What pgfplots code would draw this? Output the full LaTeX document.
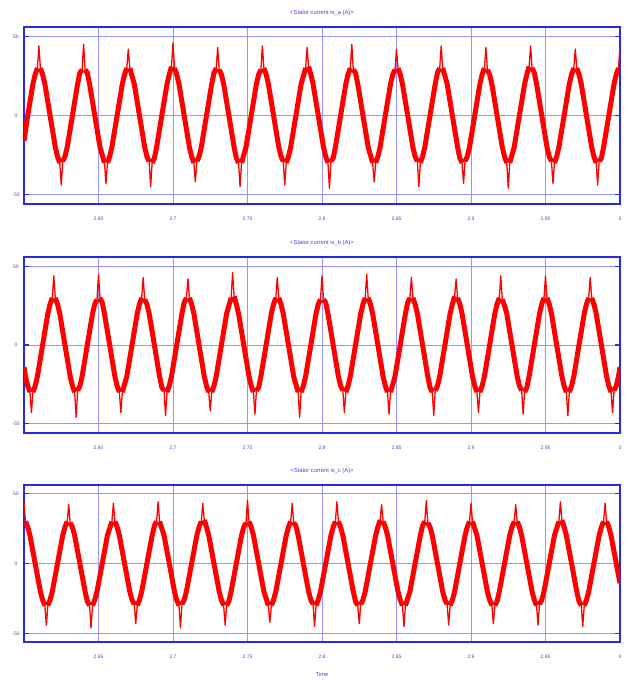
\documentclass[border=0pt]{standalone}
\usepackage{fontspec}
\setmainfont{Liberation Sans}
\usepackage{pgfplots}
\pgfplotsset{compat=1.18}

\definecolor{frameblue}{RGB}{40,40,235}
\definecolor{gridblue}{RGB}{150,150,255}
\definecolor{labblue}{RGB}{70,70,220}
\definecolor{curred}{RGB}{255,0,0}

\pgfplotsset{
  scope/.style={
    scale only axis,
    width=596pt,
    xmin=2.6, xmax=3.0,
    ymin=-56, ymax=56,
    xtick={2.65,2.7,2.75,2.8,2.85,2.9,2.95,3},
    ytick={-50,0,50},
    xmajorgrids, ymajorgrids,
    major grid style={draw=gridblue, line width=0.9pt},
    axis line style={frameblue, line width=1.2pt},
    xtick style={draw=none},
    ytick style={draw=frameblue, line width=1.2pt},
    major tick length=5pt,
    tick align=inside,
    tick label style={font=\fontsize{5}{6}\selectfont, text=labblue},
    /pgf/number format/assume math mode=true,
    xticklabel style={anchor=center, yshift=-15pt},
    yticklabel style={anchor=center, xshift=-8pt},
    title style={at={(0.5,1)}, anchor=center, yshift=8pt,
      font=\fontsize{5.8}{7}\selectfont, text=labblue},
  },
  band/.style={curred, line width=5pt, line join=round, restrict y to domain=-33:33},
  needle/.style={curred, line width=1.3pt, line join=round},
}

\pgfplotstableread{
t y
2.6000 -16
2.6025 0
2.6060 20
2.6075 26
2.6090 30
2.6100 44
2.6110 30
2.6125 26
2.6140 20
2.6175 0
2.6210 -20
2.6225 -26
2.6240 -30
2.6250 -44
2.6260 -29
2.6275 -26
2.6290 -20
2.6325 0
2.6360 20
2.6375 27
2.6390 29
2.6400 45
2.6410 29
2.6425 27
2.6440 20
2.6475 0
2.6510 -20
2.6525 -25
2.6540 -30
2.6550 -43
2.6560 -30
2.6575 -26
2.6590 -20
2.6625 0
2.6660 20
2.6675 26
2.6690 30
2.6700 42
2.6710 30
2.6725 25
2.6740 20
2.6775 0
2.6810 -20
2.6825 -26
2.6840 -29
2.6850 -45
2.6860 -30
2.6875 -27
2.6890 -20
2.6925 0
2.6960 20
2.6975 26
2.6990 31
2.7000 46
2.7010 30
2.7025 26
2.7040 20
2.7075 0
2.7110 -20
2.7125 -26
2.7140 -30
2.7150 -42
2.7160 -29
2.7175 -26
2.7190 -20
2.7225 0
2.7260 20
2.7275 27
2.7290 30
2.7300 43
2.7310 29
2.7325 26
2.7340 20
2.7375 0
2.7410 -20
2.7425 -27
2.7440 -30
2.7450 -45
2.7460 -30
2.7475 -25
2.7490 -20
2.7525 0
2.7560 20
2.7575 26
2.7590 29
2.7600 44
2.7610 30
2.7625 26
2.7640 20
2.7675 0
2.7710 -20
2.7725 -26
2.7740 -29
2.7750 -44
2.7760 -30
2.7775 -26
2.7790 -20
2.7825 0
2.7860 20
2.7875 25
2.7890 30
2.7900 43
2.7910 31
2.7925 26
2.7940 20
2.7975 0
2.8010 -20
2.8025 -26
2.8040 -30
2.8050 -46
2.8060 -29
2.8075 -27
2.8090 -20
2.8125 0
2.8160 20
2.8175 26
2.8190 30
2.8200 45
2.8210 29
2.8225 27
2.8240 20
2.8275 0
2.8310 -20
2.8325 -25
2.8340 -30
2.8350 -42
2.8360 -30
2.8375 -26
2.8390 -20
2.8425 0
2.8460 20
2.8475 26
2.8490 29
2.8500 42
2.8510 30
2.8525 26
2.8540 20
2.8575 0
2.8610 -20
2.8625 -26
2.8640 -29
2.8650 -45
2.8660 -30
2.8675 -26
2.8690 -20
2.8725 0
2.8760 20
2.8775 27
2.8790 30
2.8800 44
2.8810 30
2.8825 25
2.8840 20
2.8875 0
2.8910 -20
2.8925 -27
2.8940 -30
2.8950 -43
2.8960 -29
2.8975 -26
2.8990 -20
2.9025 0
2.9060 20
2.9075 26
2.9090 30
2.9100 43
2.9110 29
2.9125 26
2.9140 20
2.9175 0
2.9210 -20
2.9225 -26
2.9240 -30
2.9250 -46
2.9260 -30
2.9275 -25
2.9290 -20
2.9325 0
2.9360 20
2.9375 26
2.9390 31
2.9400 44
2.9410 30
2.9425 27
2.9440 20
2.9475 0
2.9510 -20
2.9525 -26
2.9540 -29
2.9550 -43
2.9560 -30
2.9575 -26
2.9590 -20
2.9625 0
2.9660 20
2.9675 26
2.9690 30
2.9700 42
2.9710 30
2.9725 26
2.9740 20
2.9775 0
2.9810 -20
2.9825 -26
2.9840 -30
2.9850 -44
2.9860 -29
2.9875 -27
2.9890 -20
2.9925 0
2.9960 20
2.9975 26
2.9990 30
3.0000 44
}\phasea

\pgfplotstableread{
t y
2.6000 -14
2.6010 -20
2.6025 -26
2.6040 -30
2.6050 -43
2.6060 -30
2.6075 -26
2.6090 -20
2.6125 0
2.6160 20
2.6175 26
2.6190 30
2.6200 44
2.6210 30
2.6225 26
2.6240 20
2.6275 0
2.6310 -20
2.6325 -26
2.6340 -30
2.6350 -46
2.6360 -29
2.6375 -26
2.6390 -20
2.6425 0
2.6460 20
2.6475 26
2.6490 29
2.6500 45
2.6510 30
2.6525 27
2.6540 20
2.6575 0
2.6610 -20
2.6625 -26
2.6640 -30
2.6650 -43
2.6660 -30
2.6675 -25
2.6690 -20
2.6725 0
2.6760 20
2.6775 26
2.6790 30
2.6800 43
2.6810 29
2.6825 26
2.6840 20
2.6875 0
2.6910 -20
2.6925 -27
2.6940 -29
2.6950 -45
2.6960 -30
2.6975 -26
2.6990 -20
2.7025 0
2.7060 20
2.7075 27
2.7090 30
2.7100 42
2.7110 30
2.7125 26
2.7140 20
2.7175 0
2.7210 -20
2.7225 -26
2.7240 -30
2.7250 -42
2.7260 -30
2.7275 -26
2.7290 -20
2.7325 0
2.7360 20
2.7375 25
2.7390 30
2.7400 46
2.7410 31
2.7425 26
2.7440 20
2.7475 0
2.7510 -20
2.7525 -26
2.7540 -30
2.7550 -44
2.7560 -29
2.7575 -27
2.7590 -20
2.7625 0
2.7660 20
2.7675 26
2.7690 30
2.7700 43
2.7710 30
2.7725 26
2.7740 20
2.7775 0
2.7810 -20
2.7825 -25
2.7840 -30
2.7850 -46
2.7860 -30
2.7875 -26
2.7890 -20
2.7925 0
2.7960 20
2.7975 26
2.7990 29
2.8000 44
2.8010 29
2.8025 27
2.8040 20
2.8075 0
2.8110 -20
2.8125 -26
2.8140 -29
2.8150 -43
2.8160 -30
2.8175 -26
2.8190 -20
2.8225 0
2.8260 20
2.8275 26
2.8290 30
2.8300 45
2.8310 30
2.8325 26
2.8340 20
2.8375 0
2.8410 -20
2.8425 -26
2.8440 -30
2.8450 -44
2.8460 -30
2.8475 -25
2.8490 -20
2.8525 0
2.8560 20
2.8575 27
2.8590 30
2.8600 43
2.8610 30
2.8625 26
2.8640 20
2.8675 0
2.8710 -20
2.8725 -27
2.8740 -30
2.8750 -45
2.8760 -29
2.8775 -26
2.8790 -20
2.8825 0
2.8860 20
2.8875 26
2.8890 31
2.8900 42
2.8910 30
2.8925 26
2.8940 20
2.8975 0
2.9010 -20
2.9025 -26
2.9040 -30
2.9050 -43
2.9060 -30
2.9075 -26
2.9090 -20
2.9125 0
2.9160 20
2.9175 26
2.9190 30
2.9200 44
2.9210 29
2.9225 25
2.9240 20
2.9275 0
2.9310 -20
2.9325 -26
2.9340 -29
2.9350 -44
2.9360 -30
2.9375 -27
2.9390 -20
2.9425 0
2.9460 20
2.9475 26
2.9490 30
2.9500 44
2.9510 30
2.9525 26
2.9540 20
2.9575 0
2.9610 -20
2.9625 -26
2.9640 -30
2.9650 -45
2.9660 -30
2.9675 -26
2.9690 -20
2.9725 0
2.9760 20
2.9775 26
2.9790 30
2.9800 43
2.9810 30
2.9825 26
2.9840 20
2.9875 0
2.9910 -20
2.9925 -26
2.9940 -30
2.9950 -43
2.9960 -29
2.9975 -26
2.9990 -20
3.0000 -14
}\phaseb

\pgfplotstableread{
t y
2.6000 44
2.6010 30
2.6025 26
2.6040 20
2.6075 0
2.6110 -20
2.6125 -26
2.6140 -30
2.6150 -44
2.6160 -30
2.6175 -26
2.6190 -20
2.6225 0
2.6260 20
2.6275 26
2.6290 30
2.6300 42
2.6310 29
2.6325 26
2.6340 20
2.6375 0
2.6410 -20
2.6425 -27
2.6440 -30
2.6450 -46
2.6460 -30
2.6475 -26
2.6490 -20
2.6525 0
2.6560 20
2.6575 25
2.6590 30
2.6600 43
2.6610 30
2.6625 26
2.6640 20
2.6675 0
2.6710 -20
2.6725 -26
2.6740 -29
2.6750 -43
2.6760 -30
2.6775 -26
2.6790 -20
2.6825 0
2.6860 20
2.6875 27
2.6890 30
2.6900 44
2.6910 30
2.6925 25
2.6940 20
2.6975 0
2.7010 -20
2.7025 -26
2.7040 -30
2.7050 -46
2.7060 -29
2.7075 -26
2.7090 -20
2.7125 0
2.7160 20
2.7175 26
2.7190 30
2.7200 43
2.7210 31
2.7225 26
2.7240 20
2.7275 0
2.7310 -20
2.7325 -26
2.7340 -30
2.7350 -44
2.7360 -30
2.7375 -27
2.7390 -20
2.7425 0
2.7460 20
2.7475 26
2.7490 29
2.7500 45
2.7510 30
2.7525 26
2.7540 20
2.7575 0
2.7610 -20
2.7625 -25
2.7640 -30
2.7650 -42
2.7660 -30
2.7675 -26
2.7690 -20
2.7725 0
2.7760 20
2.7775 26
2.7790 30
2.7800 43
2.7810 29
2.7825 27
2.7840 20
2.7875 0
2.7910 -20
2.7925 -26
2.7940 -29
2.7950 -45
2.7960 -30
2.7975 -26
2.7990 -20
2.8025 0
2.8060 20
2.8075 26
2.8090 30
2.8100 44
2.8110 30
2.8125 26
2.8140 20
2.8175 0
2.8210 -20
2.8225 -27
2.8240 -30
2.8250 -43
2.8260 -29
2.8275 -26
2.8290 -20
2.8325 0
2.8360 20
2.8375 26
2.8390 31
2.8400 42
2.8410 30
2.8425 26
2.8440 20
2.8475 0
2.8510 -20
2.8525 -26
2.8540 -30
2.8550 -45
2.8560 -30
2.8575 -25
2.8590 -20
2.8625 0
2.8660 20
2.8675 27
2.8690 30
2.8700 45
2.8710 29
2.8725 26
2.8740 20
2.8775 0
2.8810 -20
2.8825 -26
2.8840 -29
2.8850 -44
2.8860 -30
2.8875 -26
2.8890 -20
2.8925 0
2.8960 20
2.8975 26
2.8990 30
2.9000 43
2.9010 30
2.9025 25
2.9040 20
2.9075 0
2.9110 -20
2.9125 -26
2.9140 -30
2.9150 -43
2.9160 -30
2.9175 -27
2.9190 -20
2.9225 0
2.9260 20
2.9275 26
2.9290 30
2.9300 42
2.9310 30
2.9325 26
2.9340 20
2.9375 0
2.9410 -20
2.9425 -26
2.9440 -30
2.9450 -44
2.9460 -29
2.9475 -26
2.9490 -20
2.9525 0
2.9560 20
2.9575 25
2.9590 30
2.9600 44
2.9610 31
2.9625 26
2.9640 20
2.9675 0
2.9710 -20
2.9725 -27
2.9740 -30
2.9750 -45
2.9760 -30
2.9775 -26
2.9790 -20
2.9825 0
2.9860 20
2.9875 26
2.9890 30
2.9900 43
2.9910 30
2.9925 26
2.9940 20
2.9975 0
3.0000 -14
}\phasec

\begin{document}
\begin{tikzpicture}
\useasboundingbox (0,0) rectangle (627pt,680pt);

% phase a
\begin{axis}[scope, at={(24pt,476pt)}, anchor=south west, height=177pt,
  title={<Stator current is\_a (A)>}]
\addplot[band] table {\phasea};
\addplot[needle] table {\phasea};
\end{axis}

% phase b
\begin{axis}[scope, at={(24pt,247pt)}, anchor=south west, height=176pt,
  title={<Stator current is\_b (A)>}]
\addplot[band] table {\phaseb};
\addplot[needle] table {\phaseb};
\end{axis}

% phase c
\begin{axis}[scope, at={(24pt,38pt)}, anchor=south west, height=157pt,
  title={<Stator current is\_c (A)>},
  xlabel={Time},
  xlabel style={at={(0.5,0)}, anchor=center, yshift=-32pt,
    font=\fontsize{5.8}{7}\selectfont, text=labblue}]
\addplot[band] table {\phasec};
\addplot[needle] table {\phasec};
\end{axis}
\end{tikzpicture}
\end{document}
